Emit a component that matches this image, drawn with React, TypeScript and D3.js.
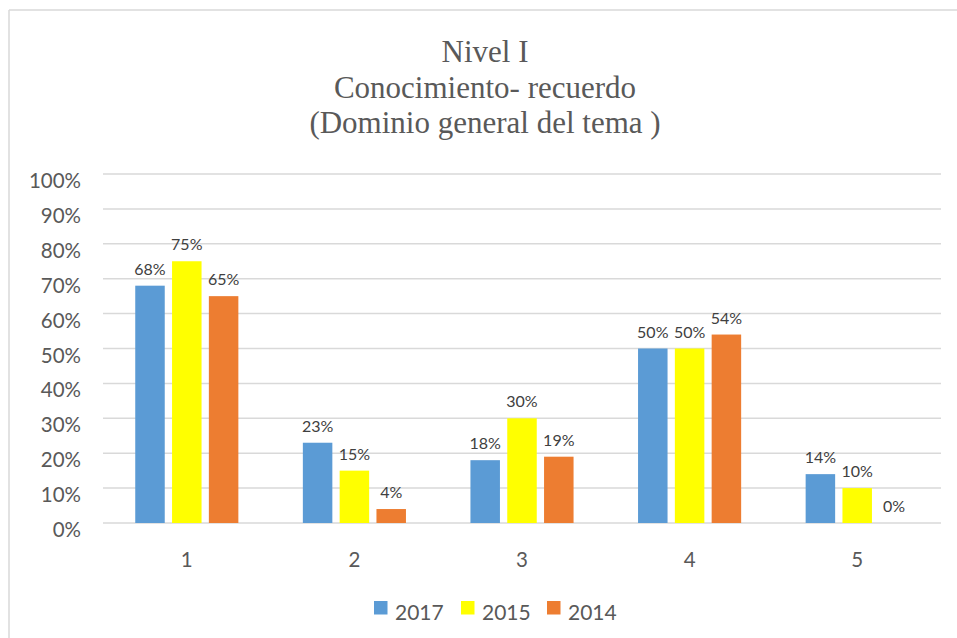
import React from "react";
import * as d3 from "d3";

const categories = ["1", "2", "3", "4", "5"];
const seriesNames = ["2017", "2015", "2014"];
const values2017 = [68, 23, 18, 50, 14];
const values2015 = [75, 15, 30, 50, 10];
const values2014 = [65, 4, 19, 54, 0];
const seriesColors = ["#5B9BD5", "#FFFF00", "#ED7D31"];
const yTicks = [0, 10, 20, 30, 40, 50, 60, 70, 80, 90, 100];
const titleLines = ["Nivel I", "Conocimiento- recuerdo", "(Dominio general del tema )"];

const W = 957;
const H = 638;
const plotLeft = 103;
const plotRight = 941;
const plotTop = 174;
const plotBottom = 523;

export default function App() {
  const series = [values2017, values2015, values2014];
  const x0 = d3.scaleBand<string>().domain(categories).range([plotLeft, plotRight]).padding(0);
  const y = d3.scaleLinear().domain([0, 100]).range([plotBottom, plotTop]);
  const band = x0.bandwidth();
  const barW = band * 0.176;
  const gap = band * 0.0436;
  const groupW = barW * 3 + gap * 2;
  const sans = "Lato, 'Open Sans', sans-serif";

  const legendX = [374, 461, 547];

  return (
    <div style={{ position: "absolute", left: 0, top: 0 }}>
      <svg width={W} height={H} style={{ display: "block", background: "#fff" }}>
        <line x1={9} y1={10} x2={W} y2={10} stroke="#d9d9d9" strokeWidth={1.5} />
        <line x1={9} y1={10} x2={9} y2={H} stroke="#d9d9d9" strokeWidth={1.5} />
        {titleLines.map((t, i) => (
          <text
            key={t}
            x={485}
            y={62 + i * 35.5}
            textAnchor="middle"
            fontFamily="'Liberation Serif', 'Times New Roman', serif"
            fontSize={31}
            fill="#595959"
          >
            {t}
          </text>
        ))}
        {yTicks.map((t) => (
          <g key={t}>
            <line x1={plotLeft} x2={plotRight} y1={y(t)} y2={y(t)} stroke="#d9d9d9" strokeWidth={1.5} />
            <text
              x={81}
              y={y(t) + 6}
              textAnchor="end"
              dominantBaseline="central"
              fontFamily={sans}
              fontSize={20.5}
              fill="#595959"
            >
              {t}%
            </text>
          </g>
        ))}
        {categories.map((c, ci) => {
          const cx = (x0(c) as number) + band / 2;
          return (
            <g key={c}>
              {series.map((vals, si) => {
                const bx = cx - groupW / 2 + si * (barW + gap);
                const v = vals[ci];
                return (
                  <g key={si}>
                    <rect x={bx} y={y(v)} width={barW} height={plotBottom - y(v)} fill={seriesColors[si]} />
                    <text
                      x={bx + barW / 2}
                      y={y(v) - 11}
                      textAnchor="middle"
                      fontFamily={sans}
                      fontSize={16}
                      fill="#404040"
                    >
                      {v}%
                    </text>
                  </g>
                );
              })}
              <text x={cx} y={567} textAnchor="middle" fontFamily={sans} fontSize={20.5} fill="#595959">
                {c}
              </text>
            </g>
          );
        })}
        {seriesNames.map((s, i) => (
          <g key={s}>
            <rect x={legendX[i]} y={601} width={13.5} height={13.5} fill={seriesColors[i]} />
            <text x={legendX[i] + 21} y={620} fontFamily={sans} fontSize={21} fill="#595959">
              {s}
            </text>
          </g>
        ))}
      </svg>
    </div>
  );
}
